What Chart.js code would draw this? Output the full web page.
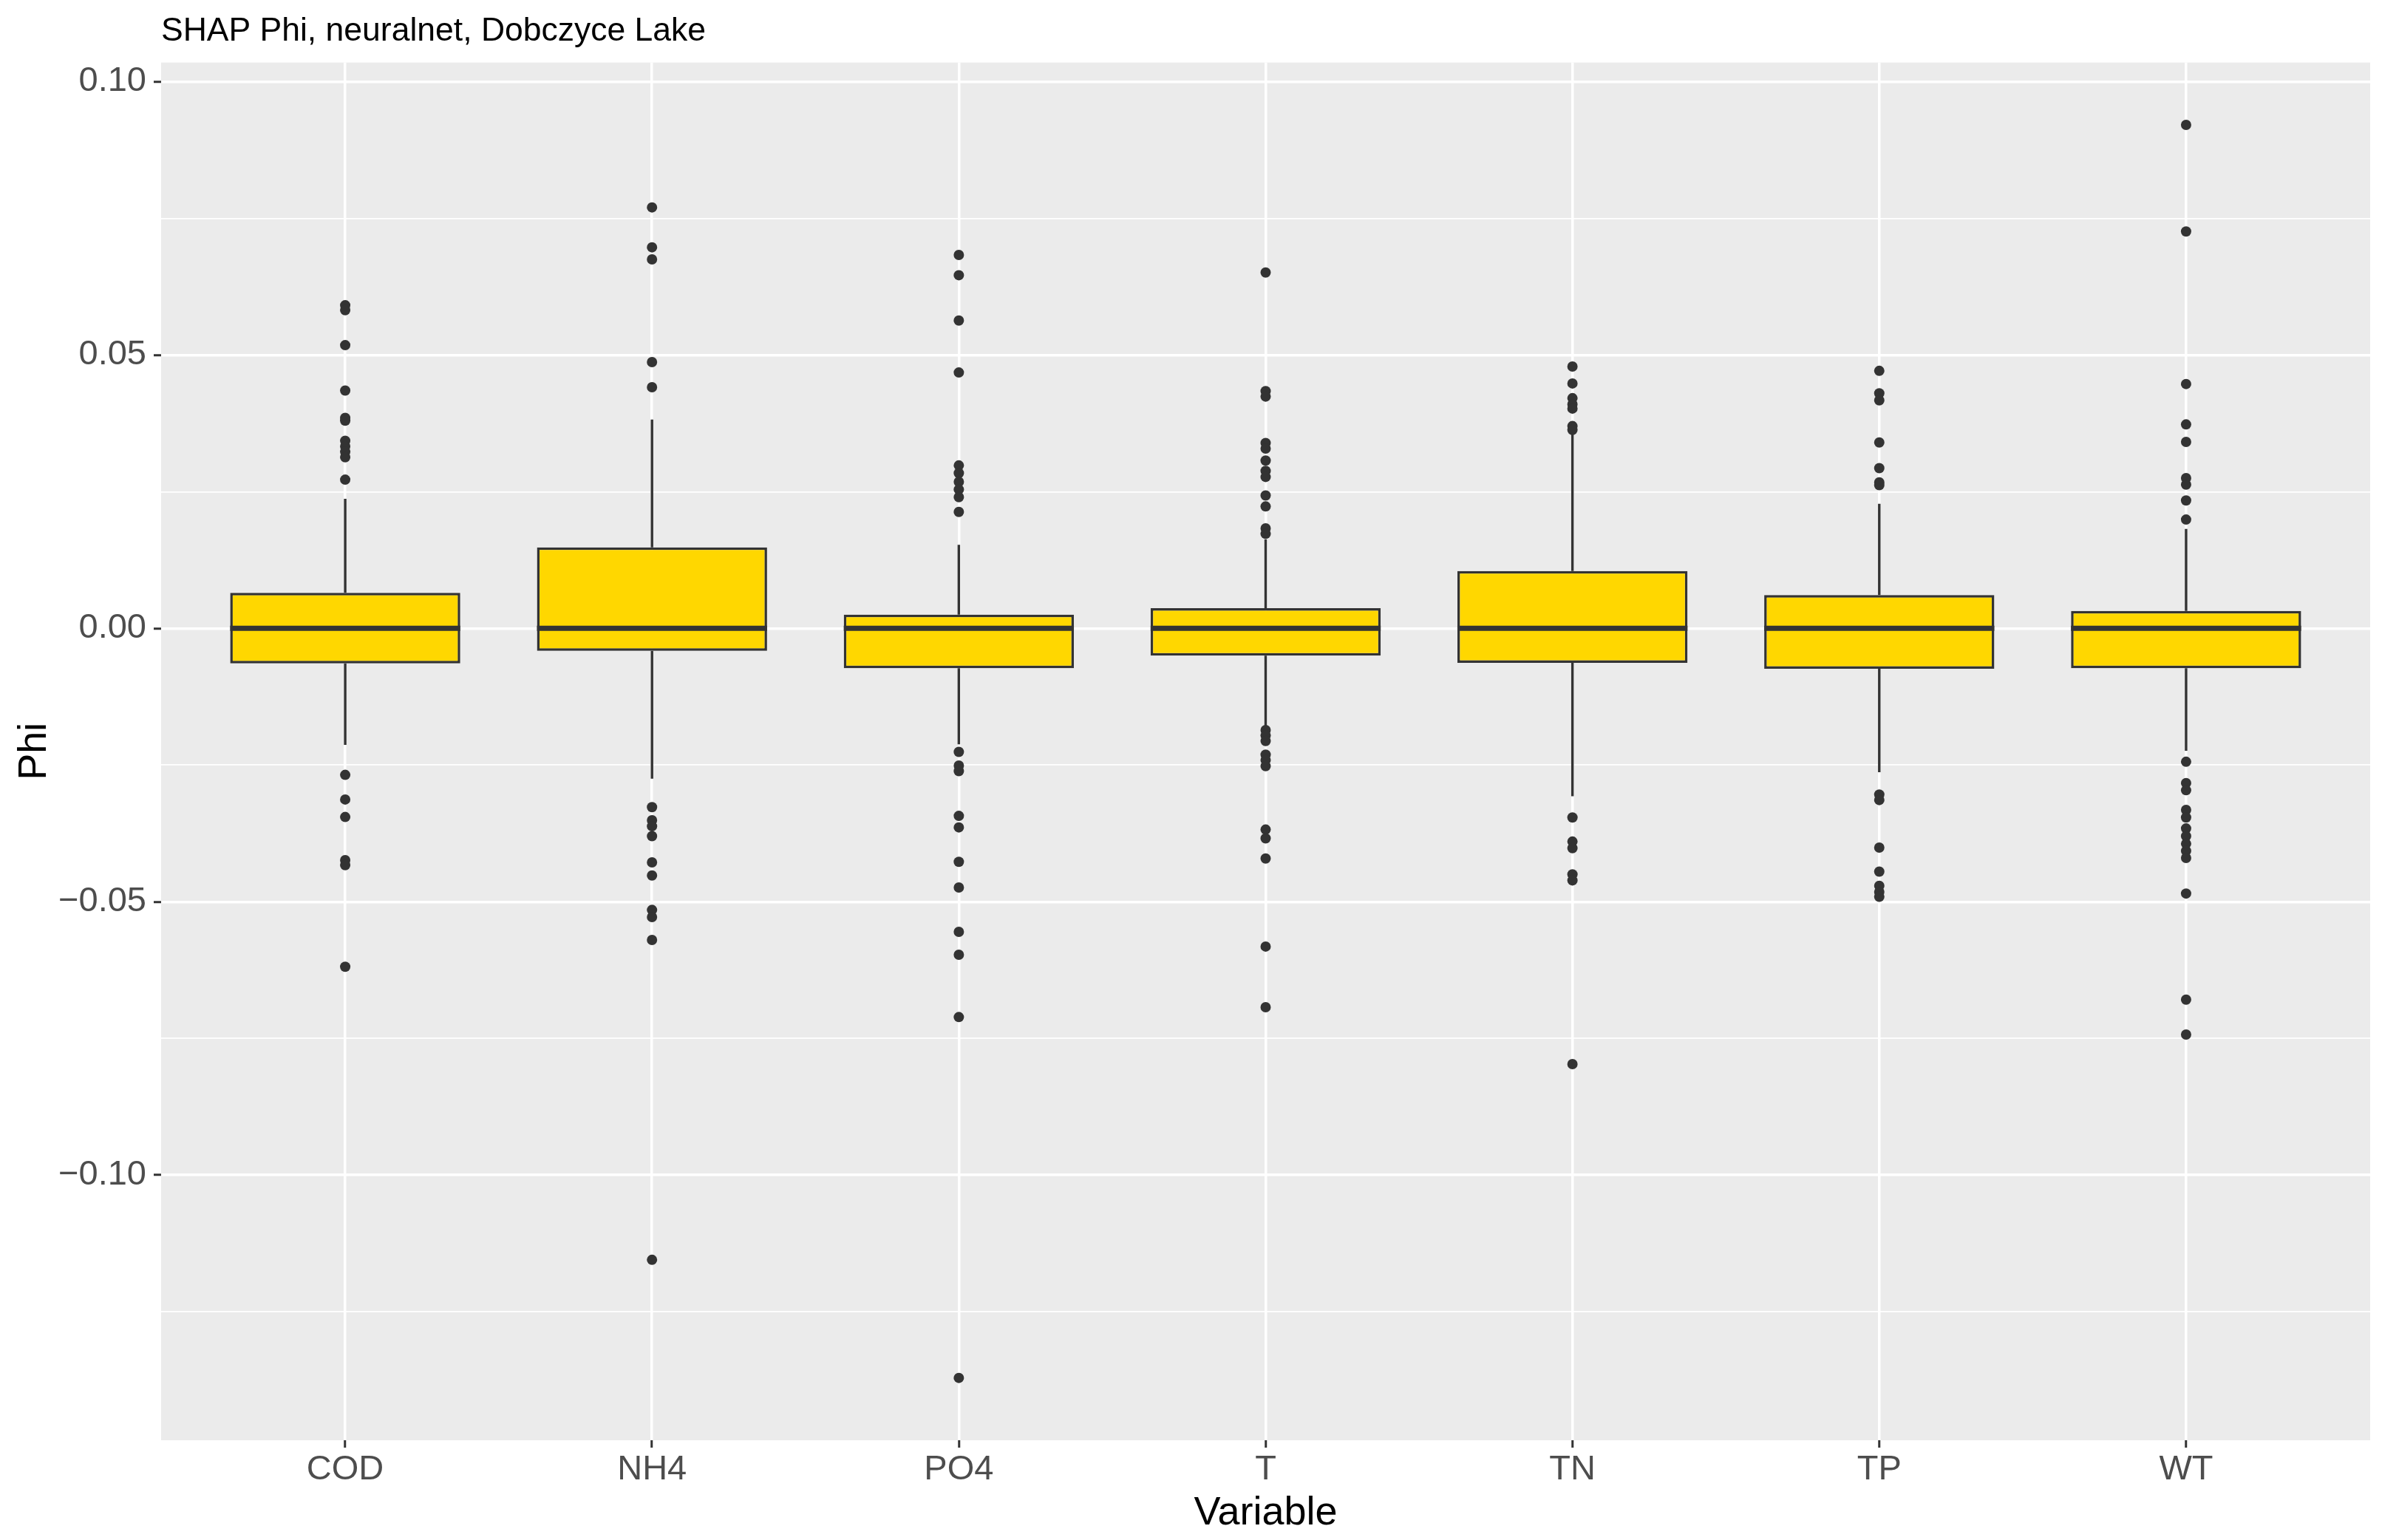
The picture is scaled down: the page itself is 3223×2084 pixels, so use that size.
<!DOCTYPE html>
<html>
<head>
<meta charset="utf-8">
<title>SHAP Phi, neuralnet, Dobczyce Lake</title>
<script src="https://cdn.jsdelivr.net/npm/chart.js@4/dist/chart.umd.min.js"></script>
<style>
    html, body { margin: 0; padding: 0; background: #ffffff; }
    canvas { display: block; }
</style>
</head>
<body>
<canvas id="shapChart" width="3223" height="2084"></canvas>
<script>
// Catégories et statistiques des boîtes
const categories = ["COD", "NH4", "PO4", "T", "TN", "TP", "WT"];
const q1 = [-0.0064, -0.0041, -0.0073, -0.0050, -0.0063, -0.0074, -0.0073];
const median = [0, 0, 0, 0, 0, 0, 0];
const q3 = [0.0065, 0.0148, 0.0025, 0.0037, 0.0105, 0.0061, 0.0032];
const whiskerLow = [-0.0213, -0.0275, -0.0212, -0.0183, -0.0307, -0.0263, -0.0224];
const whiskerHigh = [0.0237, 0.0382, 0.0153, 0.0163, 0.0361, 0.0228, 0.0182];

// Valeurs aberrantes par variable
const outCOD = [0.0591, 0.0582, 0.0518, 0.0435, 0.0385, 0.0380, 0.0343, 0.0333, 0.0323, 0.0313, 0.0272,
    -0.0268, -0.0313, -0.0345, -0.0424, -0.0433, -0.0619];
const outNH4 = [0.0770, 0.0697, 0.0675, 0.0487, 0.0441,
    -0.0327, -0.0351, -0.0362, -0.0380, -0.0428, -0.0452, -0.0515, -0.0528, -0.0570, -0.1155];
const outPO4 = [0.0683, 0.0646, 0.0563, 0.0468, 0.0298, 0.0284, 0.0268, 0.0254, 0.0240, 0.0213,
    -0.0226, -0.0251, -0.0261, -0.0343, -0.0364, -0.0427, -0.0474, -0.0555, -0.0597, -0.0711, -0.1371];
const outT = [0.0651, 0.0434, 0.0424, 0.0339, 0.0329, 0.0307, 0.0288, 0.0277, 0.0243, 0.0223, 0.0183, 0.0173,
    -0.0186, -0.0196, -0.0206, -0.0231, -0.0241, -0.0252, -0.0368, -0.0384, -0.0421, -0.0582, -0.0693];
const outTN = [0.0479, 0.0448, 0.0421, 0.0410, 0.0402, 0.0370, 0.0363,
    -0.0346, -0.0390, -0.0402, -0.0450, -0.0461, -0.0797];
const outTP = [0.0471, 0.0430, 0.0417, 0.0340, 0.0293, 0.0267, 0.0262,
    -0.0304, -0.0314, -0.0401, -0.0445, -0.0471, -0.0482, -0.0491];
const outWT = [0.0921, 0.0726, 0.0447, 0.0373, 0.0341, 0.0275, 0.0263, 0.0234, 0.0199,
    -0.0244, -0.0283, -0.0296, -0.0332, -0.0346, -0.0366, -0.0380, -0.0394, -0.0407, -0.0420, -0.0485, -0.0679, -0.0743];
const outliers = [outCOD, outNH4, outPO4, outT, outTN, outTP, outWT];

// Graduations de l'axe Y
const yTicks = [-0.125, -0.10, -0.075, -0.05, -0.025, 0, 0.025, 0.05, 0.075, 0.10];
const yMajorTicks = [-0.10, -0.05, 0, 0.05, 0.10];
const yMin = -0.1485;
const yMax = 0.1035;

const boxWidth = 0.75;
const ink = "#333333";

Chart.defaults.font.family = "'Liberation Sans', Arial, sans-serif";

function isMajor(v) {
    return yMajorTicks.some(m => Math.abs(m - v) < 1e-9);
}

function formatTick(v) {
    const s = Math.abs(v).toFixed(2);
    return v < -1e-9 ? "\u2212" + s : s;
}

// Construit les jeux de données
const boxData = categories.map((c, i) => ({ x: i, y: [q1[i], q3[i]] }));

const whiskerData = [];
const medianData = [];
const outlierData = [];
categories.forEach((c, i) => {
    whiskerData.push({ x: i, y: whiskerHigh[i] }, { x: i, y: q3[i] }, { x: i, y: null });
    whiskerData.push({ x: i, y: q1[i] }, { x: i, y: whiskerLow[i] }, { x: i, y: null });
    medianData.push({ x: i - boxWidth / 2, y: median[i] }, { x: i + boxWidth / 2, y: median[i] }, { x: i, y: null });
    outliers[i].forEach(v => outlierData.push({ x: i, y: v }));
});

// Fond gris du panneau
const panelBackground = {
    id: "panelBackground",
    beforeDraw(chart) {
        const { ctx, chartArea } = chart;
        ctx.save();
        ctx.fillStyle = "#EBEBEB";
        ctx.fillRect(chartArea.left, chartArea.top, chartArea.width, chartArea.height);
        ctx.restore();
    }
};

new Chart(document.getElementById("shapChart").getContext("2d"), {
    type: "bar",
    data: {
        datasets: [
            {
                type: "line",
                data: whiskerData,
                borderColor: ink,
                borderWidth: 3.4,
                pointRadius: 0,
                fill: false,
                order: 4,
            },
            {
                data: boxData,
                backgroundColor: "#FFD700",
                borderColor: ink,
                borderWidth: 3.5,
                borderSkipped: false,
                categoryPercentage: 1,
                barPercentage: boxWidth,
                order: 3,
            },
            {
                type: "line",
                data: medianData,
                borderColor: ink,
                borderWidth: 7,
                borderCapStyle: "butt",
                pointRadius: 0,
                fill: false,
                order: 2,
            },
            {
                type: "line",
                data: outlierData,
                showLine: false,
                pointRadius: 7,
                pointBorderWidth: 0,
                pointBackgroundColor: ink,
                order: 1,
            },
        ],
    },
    options: {
        responsive: false,
        animation: false,
        devicePixelRatio: 1,
        layout: { padding: { left: 0, right: 16, top: 0, bottom: 0 } },
        plugins: {
            legend: { display: false },
            tooltip: { enabled: false },
            title: {
                display: true,
                text: "SHAP Phi, neuralnet, Dobczyce Lake",
                align: "start",
                fullSize: false,
                color: "#000000",
                font: { size: 44.5, weight: "normal" },
                padding: { top: 16.4, bottom: 14.8 },
            },
        },
        scales: {
            x: {
                type: "linear",
                offset: false,
                min: -0.6,
                max: categories.length - 0.4,
                afterBuildTicks: (scale) => {
                    scale.ticks = categories.map((c, i) => ({ value: i }));
                },
                afterFit: (scale) => { scale.height = 135; },
                border: { display: false },
                grid: {
                    offset: false,
                    color: "#FFFFFF",
                    lineWidth: 3.5,
                    tickColor: ink,
                    tickWidth: 3,
                    tickLength: 10,
                },
                ticks: {
                    callback: (v) => categories[v],
                    color: "#4D4D4D",
                    font: { size: 47 },
                    padding: 2,
                    maxRotation: 0,
                    autoSkip: false,
                },
                title: {
                    display: true,
                    text: "Variable",
                    color: "#000000",
                    font: { size: 54 },
                    padding: { top: 0, bottom: 3 },
                },
            },
            y: {
                type: "linear",
                min: yMin,
                max: yMax,
                afterBuildTicks: (scale) => {
                    scale.ticks = yTicks.map(v => ({ value: v }));
                },
                afterFit: (scale) => { scale.width = 218; },
                border: { display: false },
                grid: {
                    color: "#FFFFFF",
                    lineWidth: (ctx) => (ctx.tick && isMajor(ctx.tick.value) ? 3.5 : 1.75),
                    tickColor: (ctx) => (ctx.tick && isMajor(ctx.tick.value) ? ink : "rgba(0,0,0,0)"),
                    tickWidth: 3,
                    tickLength: 10,
                },
                ticks: {
                    callback: (v) => (isMajor(v) ? formatTick(v) : ""),
                    color: "#4D4D4D",
                    font: { size: 47 },
                    padding: 10,
                    autoSkip: false,
                },
                title: {
                    display: true,
                    text: "Phi",
                    color: "#000000",
                    font: { size: 54 },
                    padding: { top: 15, bottom: 0 },
                },
            },
        },
    },
    plugins: [panelBackground],
});
</script>
</body>
</html>
